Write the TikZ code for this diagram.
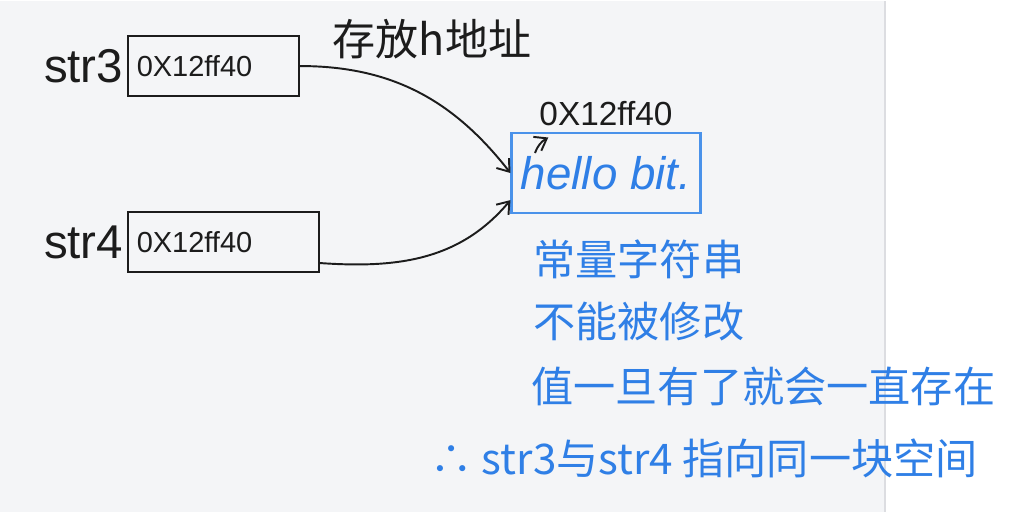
\documentclass[tikz,border=0pt]{standalone}
\usepackage{fontspec}
\setmainfont{Liberation Sans}
\newfontfamily\cjk{Noto Sans CJK SC}
\usetikzlibrary{arrows.meta,positioning}
\definecolor{ink}{HTML}{1C1C1C}
\definecolor{pen}{HTML}{2F7FE6}
\definecolor{penbox}{HTML}{4A92EA}
\definecolor{paper}{HTML}{F4F5F7}
\definecolor{edge}{HTML}{DCDDE1}
\tikzset{
  regbox/.style={draw=ink,line width=1.1pt,minimum height=1.2cm,inner sep=5pt,anchor=west,
    align=left,font=\fontsize{16.5}{19}\selectfont,text=ink},
  varname/.style={font=\fontsize{27}{30}\selectfont,text=ink,anchor=east,inner sep=2pt},
  strbox/.style={draw=penbox,line width=1.2pt,minimum width=3.78cm,minimum height=1.6cm,
    font=\fontsize{26}{30}\selectfont\itshape,text=pen},
  bluenote/.style={font=\cjk\fontsize{24}{28}\selectfont,text=pen,anchor=west,inner sep=0pt},
  inknote/.style={font=\cjk\fontsize{24.5}{28}\selectfont,text=ink},
  arr/.style={-{Straight Barb[length=2.2mm,width=3.2mm]},line width=1.1pt,draw=ink},
}
\begin{document}
\begin{tikzpicture}[x=0.02cm,y=-0.02cm]
  % page
  \fill[paper] (0,0) rectangle (884,511);
  \fill[white] (886,0) rectangle (1024,511);
  \draw[edge,line width=1.2pt] (885,0) -- (885,511);
  \useasboundingbox (0,0) rectangle (1024,511);
  % the two pointers
  \node[regbox,text width=3.07cm] (str3box) at (127,65) {0X12ff40};
  \node[varname] (str3lbl) at (str3box.west) {str3};
  \node[regbox,text width=3.47cm] (str4box) at (127,241) {0X12ff40};
  \node[varname] (str4lbl) at (str4box.west) {str4};
  % the constant string
  \node[strbox] (hbox) at (606,172) {hello bit.};
  \node[font=\fontsize{19}{22}\selectfont,text=ink] (haddr) at (606,113) {0X12ff40};
  \node[inknote] (keep) at (432,38) {存放h地址};
  \coordinate (tail) at (535,152);
  \draw[arr] (str3box.east) to[out=0,in=128] (hbox.west);
  \draw[arr] ([yshift=-0.42cm]str4box.east) to[out=-4,in=230] ([yshift=0.28cm]hbox.south west);
  \draw[arr] (tail) to[out=70,in=210] ([xshift=0.3cm,yshift=-0.1cm]haddr.south west);
  % notes
  \node[bluenote] (n1) at (533,258) {常量字符串};
  \node[bluenote] (n2) at (533,320) {不能被修改};
  \node[bluenote] (n3) at (531,385) {值一旦有了就会一直存在};
  \node[bluenote] (n4) at (430,457) {∴ str3与str4 指向同一块空间};
\end{tikzpicture}
\end{document}
